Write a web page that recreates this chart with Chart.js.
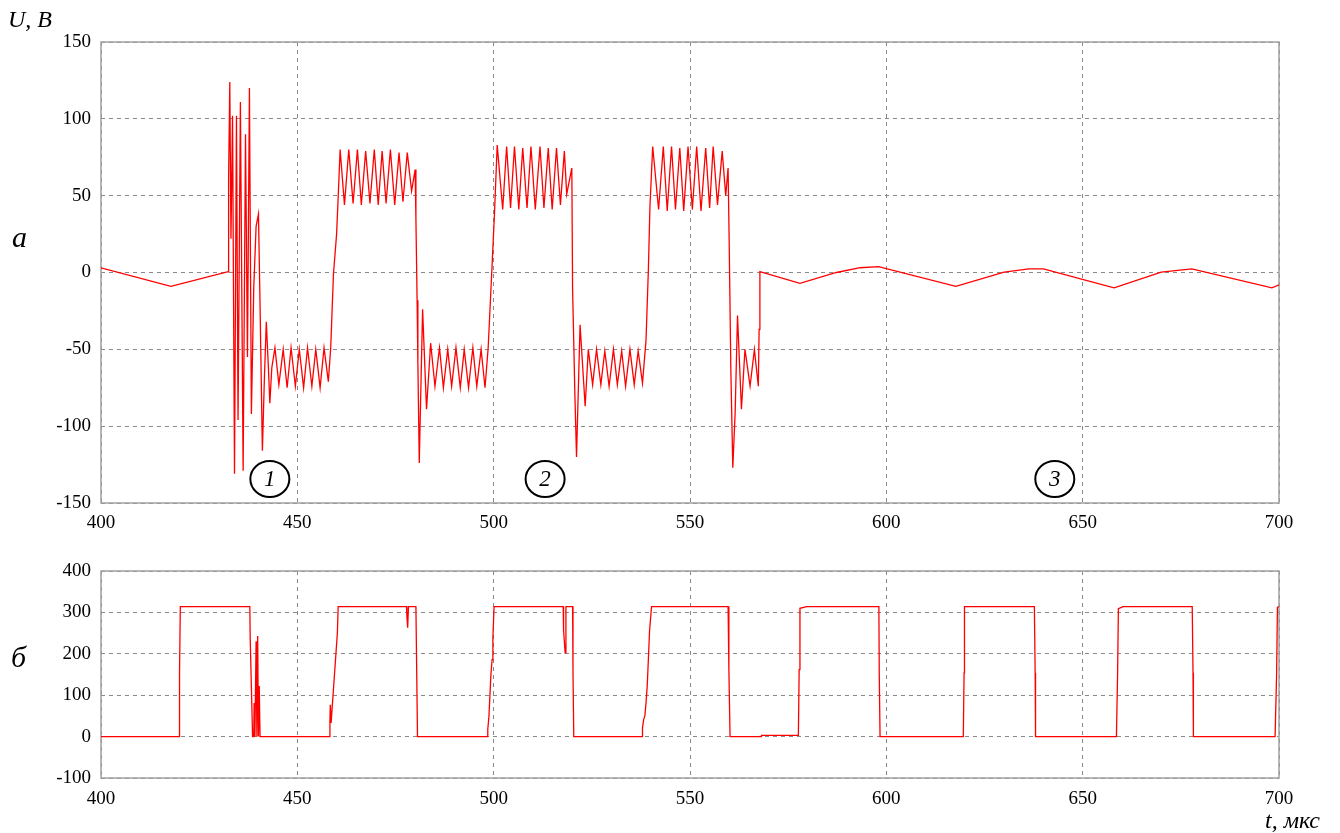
<!DOCTYPE html>
<html>
<head>
<meta charset="utf-8">
<script src="https://cdn.jsdelivr.net/npm/chart.js@4"></script>
<style>
  body { margin: 0; background: #fff; width: 1340px; height: 833px; position: relative; overflow: hidden; }
  canvas { position: absolute; left: 0; }
  #topChart { top: 0; }
  #bottomChart { top: 540px; }
  .lbl { position: absolute; font-family: "Liberation Serif", serif; font-style: italic; color: #000; line-height: 1; white-space: nowrap; }
</style>
</head>
<body>
<canvas id="topChart" width="1340" height="540"></canvas>
<canvas id="bottomChart" width="1340" height="293"></canvas>
<div class="lbl" style="left:8px;top:7px;font-size:24px">U, B</div>
<div class="lbl" style="left:12px;top:222px;font-size:30px">а</div>
<div class="lbl" style="left:11px;top:642px;font-size:30px">б</div>
<div class="lbl" style="left:1265px;top:808px;font-size:24px">t, мкс</div>
<script>
// Tick values
const xTicks = [400, 450, 500, 550, 600, 650, 700];
const yTopTicks = [-150, -100, -50, 0, 50, 100, 150];
const yBottomTicks = [-100, 0, 100, 200, 300, 400];

// Panel a: voltage U (V) vs time t (us)
const tTop = [
  400, 417.8, 432.4,
  432.5, 432.8, 433.1, 433.5, 434.0, 434.5, 434.9, 435.5, 436.2, 436.8, 437.3, 437.8, 438.3, 438.9, 439.5, 440.1, 440.5, 441.1, 441.6, 442.1, 442.6, 443.0, 443.5,
  444.3, 445.3, 446.4, 447.4, 448.4, 449.5, 450.5, 451.6, 452.6, 453.7, 454.7, 455.8, 456.8, 457.9,
  458.5, 459.2, 460.0, 460.4, 460.9,
  462.0, 463.1, 464.2, 465.3, 466.3, 467.4, 468.5, 469.6, 470.6, 471.6, 472.6, 473.7, 474.8, 475.9, 476.9, 478.0, 479.1, 480.0,
  480.2, 480.5, 480.7, 481.05, 481.9, 482.9, 483.95, 485.05,
  486.2, 487.2, 488.3, 489.3, 490.4, 491.5, 492.5, 493.6, 494.7, 495.7, 496.8, 497.8,
  498.6, 499.5, 500.2, 500.9,
  502.3, 503.3, 504.3, 505.3, 506.4, 507.4, 508.5, 509.5, 510.6, 511.8, 512.8, 513.9, 514.9, 516.0, 517.0, 518.0, 518.6, 519.9,
  520.1, 520.7, 521.1, 522.0, 523.3, 524.1, 525.2,
  526.2, 527.3, 528.3, 529.4, 530.5, 531.5, 532.6, 533.6, 534.7, 535.8, 536.8, 537.9,
  538.8, 539.4, 539.8, 540.5,
  542.0, 543.2, 544.2, 545.3, 546.3, 547.4, 548.4, 549.5, 550.6, 551.7, 552.8, 554.0, 555.0, 555.9, 557.0, 558.2, 559.1, 559.7,
  560.0, 560.4, 560.9, 561.5, 562.1, 563.1, 564.0, 565.3, 566.4, 567.4, 567.6, 567.8,
  578.0, 587.3, 593.3, 598.0, 617.7, 630.0, 636.3, 640.0, 658.0, 670.0, 677.8, 698.2, 700
];
const uTop = [
  3, -9, 0.5,
  62, 124, 22, 102, -131, 102, -96, 111, -129, 90, -55, 120, -92, -10, 30, 38, -20, -116, -70, -32, -60, -85, -62,
  -49, -73, -50, -75, -49, -74, -50, -75, -49, -74, -50, -75, -49, -71,
  -49, -1, 25, 49, 80,
  44, 80, 45, 80, 44, 79, 45, 80, 44, 79, 45, 80, 44, 78, 46, 78, 53, 67,
  35, -18, -59, -124, -24, -89, -46, -74,
  -49, -75, -50, -74, -49, -75, -50, -75, -49, -74, -50, -75,
  -49, -0.5, 38, 83,
  41, 82, 42, 82, 41, 81, 42, 82, 41, 82, 42, 81, 41, 81, 44, 79, 51, 68,
  -11, -81, -120, -34, -87, -50, -73,
  -50, -73, -51, -74, -50, -73, -51, -74, -50, -73, -51, -72,
  -44, 2, 43, 82,
  41, 82, 40, 82, 41, 81, 40, 82, 41, 82, 40, 81, 42, 82, 44, 79, 50, 68,
  16, -63, -127, -91, -28, -89, -50, -74, -50, -74, -37, 0.5,
  -7, 0, 3.1, 3.8, -9, 0.3, 2.3, 2.3, -10, 0.3, 2.3, -10, -8
];

// Panel b
const tBottom = [
  400, 419.9, 420.0, 420.2, 437.9, 438.0, 438.4, 438.6, 438.9, 439.0, 439.2, 439.5, 439.7, 439.9, 440.1, 440.3, 440.5,
  458.1, 458.3, 458.4, 458.6, 460.2, 460.4, 477.8, 477.9, 478.1, 478.3, 480.2, 480.4, 480.6,
  498.4, 498.5, 498.8, 499.0, 499.3, 499.6, 499.8, 500.1, 517.7, 517.8, 518.2, 518.4, 520.1, 520.2, 520.4,
  537.8, 537.9, 538.2, 538.5, 538.8, 539.1, 539.4, 539.7, 540.2, 559.7, 559.9, 560.2,
  568.1, 568.2, 577.6, 577.8, 578.0, 579.7, 598.1, 598.2, 598.4,
  619.6, 619.8, 619.9, 637.7, 637.9, 638.0,
  658.6, 658.9, 659.1, 660.3, 677.9, 678.1, 678.2,
  699.0, 699.4, 699.6, 700
];
const uBottom = [
  0, 0, 154, 314, 314, 235, 81, 0, 0, 81, 0, 230, 0, 243, 0, 122, 0,
  0, 41, 77, 33, 251, 314, 314, 290, 263, 314, 314, 158, 0,
  0, 17, 49, 90, 150, 186, 239, 314, 314, 257, 202, 314, 314, 158, 0,
  0, 21, 41, 50, 81, 122, 186, 255, 314, 314, 162, 0,
  0, 3, 3, 162, 310, 314, 314, 150, 0,
  0, 154, 314, 314, 154, 0,
  0, 154, 309, 314, 314, 154, 0,
  0, 154, 312, 314
];

const tickFont = { family: "Liberation Serif", size: 19 };

// plot frame
const framePlugin = {
  id: "frame",
  beforeDatasetsDraw(chart) {
    const { ctx, chartArea: a } = chart;
    ctx.save();
    ctx.strokeStyle = "#a0a0a0";
    ctx.lineWidth = 1.5;
    ctx.setLineDash([]);
    ctx.strokeRect(a.left, a.top, a.right - a.left, a.bottom - a.top);
    ctx.restore();
  },
};

// circled numbers under the trace
const markerPlugin = {
  id: "markers",
  afterDatasetsDraw(chart) {
    const { ctx, scales } = chart;
    const marks = [["1", 443], ["2", 513.1], ["3", 642.9]];
    ctx.save();
    marks.forEach(([txt, t]) => {
      const x = scales.x.getPixelForValue(t);
      const y = scales.y.getPixelForValue(-134.4);
      ctx.beginPath();
      ctx.ellipse(x, y, 19.5, 18, 0, 0, Math.PI * 2);
      ctx.fillStyle = "#fff";
      ctx.fill();
      ctx.lineWidth = 2;
      ctx.strokeStyle = "#000";
      ctx.stroke();
      ctx.fillStyle = "#000";
      ctx.font = "italic 23px 'Liberation Serif'";
      ctx.textAlign = "center";
      ctx.textBaseline = "middle";
      ctx.fillText(txt, x, y + 1);
    });
    ctx.restore();
  },
};

function makeChart(id, xs, ys, yTicks, padTop, xAxisH, xLabelPad, plugins) {
  const points = xs.map((t, i) => ({ x: t, y: ys[i] }));
  return new Chart(document.getElementById(id), {
    type: "scatter",
    data: {
      datasets: [
        {
          data: points,
          showLine: true,
          borderColor: "#ff0000",
          borderWidth: 1.3,
          pointRadius: 0,
          tension: 0,
        },
      ],
    },
    options: {
      responsive: false,
      animation: false,
      devicePixelRatio: 1,
      layout: { padding: { left: 0, right: 61, top: padTop, bottom: 0 } },
      plugins: { legend: { display: false }, tooltip: { enabled: false } },
      scales: {
        x: {
          type: "linear",
          min: xTicks[0],
          max: xTicks[xTicks.length - 1],
          afterBuildTicks: (s) => { s.ticks = xTicks.map((v) => ({ value: v })); },
          afterFit: (s) => { s.height = xAxisH; s.paddingLeft = 0; s.paddingRight = 0; },
          ticks: { color: "#000", font: tickFont, padding: xLabelPad, maxRotation: 0, autoSkip: false },
          grid: { color: "#888", lineWidth: 1, drawTicks: false, borderDash: [4, 4] },
          border: { display: false, dash: [4, 4] },
        },
        y: {
          min: yTicks[0],
          max: yTicks[yTicks.length - 1],
          afterBuildTicks: (s) => { s.ticks = yTicks.map((v) => ({ value: v })); },
          afterFit: (s) => { s.width = 101; },
          ticks: { color: "#000", font: tickFont, padding: 10, autoSkip: false },
          grid: { color: "#888", lineWidth: 1, drawTicks: false, borderDash: [4, 4] },
          border: { display: false, dash: [4, 4] },
        },
      },
    },
    plugins: plugins,
  });
}

makeChart("topChart", tTop, uTop, yTopTicks, 42, 37, 9, [framePlugin, markerPlugin]);
makeChart("bottomChart", tBottom, uBottom, yBottomTicks, 31, 55, 10, [framePlugin]);
</script>
</body>
</html>
